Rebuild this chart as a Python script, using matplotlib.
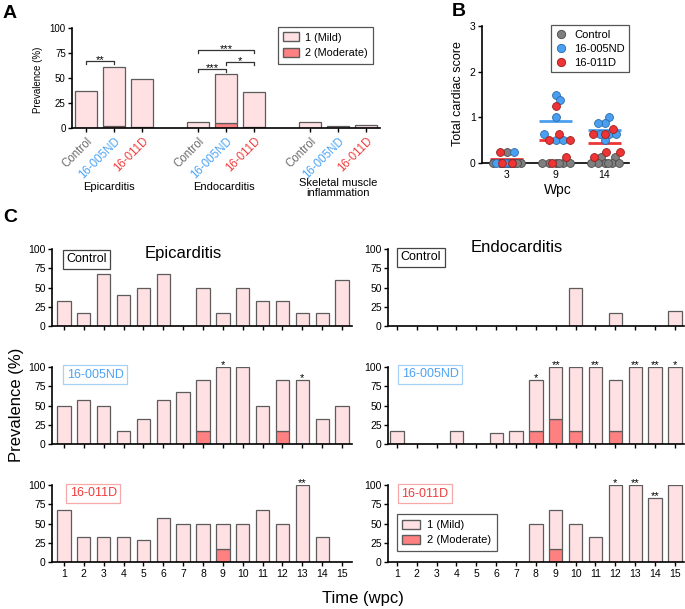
import matplotlib
matplotlib.use('Agg')
import matplotlib.pyplot as plt
import numpy as np
from matplotlib.patches import Patch
from matplotlib.lines import Line2D

plt.rcParams['font.family'] = ['Liberation Sans', 'DejaVu Sans']
plt.rcParams['axes.linewidth'] = 1.2
plt.rcParams['xtick.major.width'] = 1.0
plt.rcParams['ytick.major.width'] = 1.0
plt.rcParams['xtick.major.size'] = 3
plt.rcParams['ytick.major.size'] = 3
plt.rcParams['xtick.major.pad'] = 2
plt.rcParams['ytick.major.pad'] = 1.5

# ---------------- data ----------------
groups = ['Control', '16-005ND', '16-011D']
lesions_A = ['Epicarditis', 'Endocarditis', 'Skeletal muscle\ninflammation']
total_A = [[37, 61, 49], [6, 54, 36], [6, 2, 3]]
moderate_A = [[0, 2, 1], [0, 5, 1], [0, 0, 0]]
sig_A = [(0, 0, 1, 67, '**'), (1, 0, 1, 59, '***'), (1, 1, 2, 66, '*'), (1, 0, 2, 78, '***')]

weeks_B = ['3', '9', '14']
score_ctrl = [[0.25, 0, 0, 0, 0, 0, 0, 0, 0], [0, 0, 0, 0, 0, 0], [0.125, 0.125, 0, 0, 0, 0, 0, 0]]
score_005 = [[0.25, 0, 0, 0], [1.5, 1.375, 1.0, 0.625, 0.5, 0.5],
             [1.0, 0.875, 0.875, 0.625, 0.625, 0.625, 0.5]]
score_011 = [[0.25, 0, 0], [1.25, 0.625, 0.5, 0.5, 0.125, 0],
             [0.75, 0.625, 0.625, 0.25, 0.25, 0.125]]

weeks_C = list(range(1, 16))
epi_ctrl = [33, 17, 67, 40, 50, 67, 0, 50, 17, 50, 33, 33, 17, 17, 60]
epi_ctrl_mod = [0] * 15
epi_005 = [50, 57, 50, 17, 33, 57, 67, 83, 100, 100, 50, 83, 83, 33, 50]
epi_005_mod = [0, 0, 0, 0, 0, 0, 0, 17, 0, 0, 0, 17, 0, 0, 0]
epi_011 = [67, 33, 33, 33, 29, 57, 50, 50, 50, 50, 67, 50, 100, 33, 0]
epi_011_mod = [0, 0, 0, 0, 0, 0, 0, 0, 17, 0, 0, 0, 0, 0, 0]
endo_ctrl = [0, 0, 0, 0, 0, 0, 0, 0, 0, 50, 0, 17, 0, 0, 20]
endo_ctrl_mod = [0] * 15
endo_005 = [17, 0, 0, 17, 0, 14, 17, 83, 100, 100, 100, 83, 100, 100, 100]
endo_005_mod = [0, 0, 0, 0, 0, 0, 0, 17, 33, 17, 0, 17, 0, 0, 0]
endo_011 = [0, 0, 0, 0, 0, 0, 0, 50, 67, 50, 33, 100, 100, 83, 100]
endo_011_mod = [0, 0, 0, 0, 0, 0, 0, 0, 17, 0, 0, 0, 0, 0, 0]
stars_epi = [{}, {9: '*', 13: '*'}, {13: '**'}]
stars_endo = [{}, {8: '*', 9: '**', 11: '**', 13: '**', 14: '**', 15: '*'},
              {12: '*', 13: '**', 14: '**'}]

# ---------------- style ----------------
MILD = '#ffe0e3'
MOD = '#ff8080'
EDGE = '#5c5c5c'
BLUE = '#4da3f5'
RED = '#f03c3c'
TXT = ['#6e6e6e', BLUE, RED]
PT_FACE = ['#7f7f7f', '#4a9ff0', '#ee3535']
PT_EDGE = ['#4a4a4a', '#2a6aa8', '#9a1f1f']
BOX_EDGE = ['#444444', '#a8d0f5', '#f7a8a8']
BOX_TXT = ['black', BLUE, RED]

W, H = 685, 609
fig = plt.figure(figsize=(W / 100, H / 100), dpi=100)


def px_axes(x0, y0, x1, y1):
    return fig.add_axes([x0 / W, 1 - y1 / H, (x1 - x0) / W, (y1 - y0) / H])


def ftext(x, y, s, **kw):
    return fig.text(x / W, 1 - y / H, s, **kw)


def clean(ax):
    ax.spines['top'].set_visible(False)
    ax.spines['right'].set_visible(False)


# ---------------- Panel A ----------------
axA = px_axes(72, 28, 380, 128)
clean(axA)
xt, xl = [], []
for li in range(3):
    for gi in range(3):
        x = li * 4 + gi
        tot = total_A[li][gi]
        mod = moderate_A[li][gi]
        if mod > 0:
            axA.bar(x, mod, width=0.8, color=MOD, edgecolor=EDGE, lw=0.9, zorder=2)
        axA.bar(x, tot - mod, bottom=mod, width=0.8, color=MILD, edgecolor=EDGE, lw=0.9, zorder=2)
        xt.append(x)
        xl.append(groups[gi])
axA.set_xlim(-0.5, 10.5)
axA.set_ylim(0, 100)
axA.set_yticks([0, 25, 50, 75, 100])
axA.tick_params(axis='y', labelsize=7)
axA.set_xticks(xt)
axA.set_xticklabels(xl, rotation=45, ha='right', rotation_mode='anchor', fontsize=8.3)
for lab, i in zip(axA.get_xticklabels(), range(9)):
    lab.set_color(TXT[i % 3])
for li, g1, g2, y, s in sig_A:
    x1, x2 = li * 4 + g1, li * 4 + g2
    axA.plot([x1, x1, x2, x2], [y - 3, y, y, y - 3], color='#333333', lw=0.9, clip_on=False)
    axA.text((x1 + x2) / 2, y - 2, s, ha='center', va='baseline', fontsize=8)
axA.legend(handles=[Patch(facecolor=MILD, edgecolor=EDGE, label='1 (Mild)'),
                    Patch(facecolor=MOD, edgecolor=EDGE, label='2 (Moderate)')],
           loc='upper left', bbox_to_anchor=(0.669, 1.01), borderaxespad=0, fontsize=7.8,
           fancybox=False, edgecolor='#555555', framealpha=1, handlelength=1.4,
           handleheight=0.9, borderpad=0.5, labelspacing=0.5, handletextpad=0.6)
axA.legend_.get_frame().set_linewidth(0.9)
ftext(38, 80, 'Prevalence (%)', rotation=90, ha='center', va='center', fontsize=7)
ftext(109, 187, lesions_A[0], ha='center', va='center', fontsize=8)
ftext(224, 187, lesions_A[1], ha='center', va='center', fontsize=8)
ftext(338, 188, lesions_A[2], ha='center', va='center', fontsize=8, linespacing=1.1)
ftext(3, 13, 'A', ha='left', va='center', fontsize=14, fontweight='bold')

# ---------------- Panel B ----------------
axB = px_axes(482, 26, 629, 163)
clean(axB)
XS = 147 / 3.0
YS = 137 / 3.0


def swarm(vals, d=7.0, lim=15.0):
    placed = []
    offs = [0.0] * len(vals)
    order = sorted(range(len(vals)), key=lambda i: vals[i])
    cands = sorted(np.arange(-lim, lim + 0.01, 0.5), key=lambda c: (abs(c), -c))
    for i in order:
        y = vals[i] * YS
        best, bestd, bestc = None, -1.0, 0.0
        for c in cands:
            md = min([np.hypot(c - px, y - py) for px, py in placed], default=1e9)
            if md >= d:
                best = c
                break
            if md > bestd + 1e-9:
                bestd, bestc = md, c
        if best is None:
            best = bestc
        offs[i] = best / XS
        placed.append((best, y))
    return offs


all_scores = [score_ctrl, score_005, score_011]
for wi in range(3):
    vals, grp = [], []
    for gi in range(3):
        vals += all_scores[gi][wi]
        grp += [gi] * len(all_scores[gi][wi])
    offs = swarm(vals)
    for gi in range(3):
        xs = [wi + offs[k] for k in range(len(vals)) if grp[k] == gi]
        ys = [vals[k] for k in range(len(vals)) if grp[k] == gi]
        axB.scatter(xs, ys, s=32, c=PT_FACE[gi], edgecolors=PT_EDGE[gi], linewidths=0.6,
                    zorder=4 + gi, clip_on=False)
    for gi in range(3):
        m = np.mean(all_scores[gi][wi])
        axB.hlines(m, wi - 0.33, wi + 0.33, color=PT_FACE[gi], lw=2, zorder=3, clip_on=False)
axB.set_xlim(-0.5, 2.5)
axB.set_ylim(0, 3)
axB.set_yticks([0, 1, 2, 3])
axB.set_xticks([0, 1, 2])
axB.set_xticklabels(weeks_B)
axB.tick_params(labelsize=7.5)
axB.legend(handles=[Line2D([], [], ls='', marker='o', markersize=6, markerfacecolor=PT_FACE[g],
                           markeredgecolor=PT_EDGE[g], markeredgewidth=0.6, label=groups[g])
                    for g in range(3)],
           loc='upper left', bbox_to_anchor=(0.47, 1.005), borderaxespad=0, fontsize=8,
           fancybox=False, edgecolor='#555555', framealpha=1, handlelength=1.0,
           borderpad=0.4, labelspacing=0.35, handletextpad=0.7)
axB.legend_.get_frame().set_linewidth(0.9)
ftext(458, 94, 'Total cardiac score', rotation=90, ha='center', va='center', fontsize=9)
ftext(558, 190, 'Wpc', ha='center', va='center', fontsize=10)
ftext(452, 12, 'B', ha='left', va='center', fontsize=14, fontweight='bold')

# ---------------- Panel C ----------------
rows_y = [(249, 326), (367, 444), (485, 562)]
epi_tot = [epi_ctrl, epi_005, epi_011]
epi_mod = [epi_ctrl_mod, epi_005_mod, epi_011_mod]
endo_tot = [endo_ctrl, endo_005, endo_011]
endo_mod = [endo_ctrl_mod, endo_005_mod, endo_011_mod]
cols = [((52, 352), (0.4, 15.5), epi_tot, epi_mod, stars_epi),
        ((388, 684), (0.55, 15.46), endo_tot, endo_mod, stars_endo)]
box_centers = [[(86.5, 259), (95, 374.5), (93.3, 493.5)],
               [(421, 257.5), (430.3, 374), (425, 493.7)]]
axes_C = {}
for ci, (xr, xlim, tots, mods, stars) in enumerate(cols):
    for ri, (y0, y1) in enumerate(rows_y):
        ax = px_axes(xr[0], y0, xr[1], y1)
        clean(ax)
        axes_C[(ci, ri)] = ax
        tot = np.array(tots[ri])
        mod = np.array(mods[ri])
        w = np.array(weeks_C)
        has_mod = mod > 0
        ax.bar(w[has_mod], mod[has_mod], width=0.67, color=MOD, edgecolor=EDGE, lw=0.9, zorder=2)
        nz = tot > 0
        ax.bar(w[nz], (tot - mod)[nz], bottom=mod[nz], width=0.67, color=MILD,
               edgecolor=EDGE, lw=0.9, zorder=2)
        for wk, s in stars[ri].items():
            ax.text(wk, tots[ri][wk - 1] - 1.5, s, ha='center', va='baseline', fontsize=8,
                    clip_on=False)
        ax.set_xlim(*xlim)
        ax.set_ylim(0, 100)
        ax.set_yticks([0, 25, 50, 75, 100])
        ax.set_xticks(weeks_C)
        if ri == 2:
            ax.set_xticklabels([str(v) for v in weeks_C])
        else:
            ax.set_xticklabels([])
        ax.tick_params(labelsize=7.5)
        bx, by = box_centers[ci][ri]
        ftext(bx, by, groups[ri], ha='center', va='center', fontsize=9, color=BOX_TXT[ri],
              bbox=dict(boxstyle='square,pad=0.28', facecolor='white',
                        edgecolor=BOX_EDGE[ri], lw=0.9))

axes_C[(1, 2)].legend(handles=[Patch(facecolor=MILD, edgecolor=EDGE, label='1 (Mild)'),
                               Patch(facecolor=MOD, edgecolor=EDGE, label='2 (Moderate)')],
                      loc='upper left', bbox_to_anchor=(0.03, 0.623), borderaxespad=0,
                      fontsize=8, fancybox=False, edgecolor='#555555', framealpha=1,
                      handlelength=1.6, handleheight=0.9, borderpad=0.5, labelspacing=0.45,
                      handletextpad=0.6)
axes_C[(1, 2)].legend_.get_frame().set_linewidth(0.9)

ftext(183, 253, 'Epicarditis', ha='center', va='center', fontsize=12)
ftext(517, 247, 'Endocarditis', ha='center', va='center', fontsize=12)
ftext(17, 405, 'Prevalence (%)', rotation=90, ha='center', va='center', fontsize=12)
ftext(363, 598, 'Time (wpc)', ha='center', va='center', fontsize=12)
ftext(3, 218, 'C', ha='left', va='center', fontsize=14, fontweight='bold')

fig.savefig('out.png', dpi=100)
